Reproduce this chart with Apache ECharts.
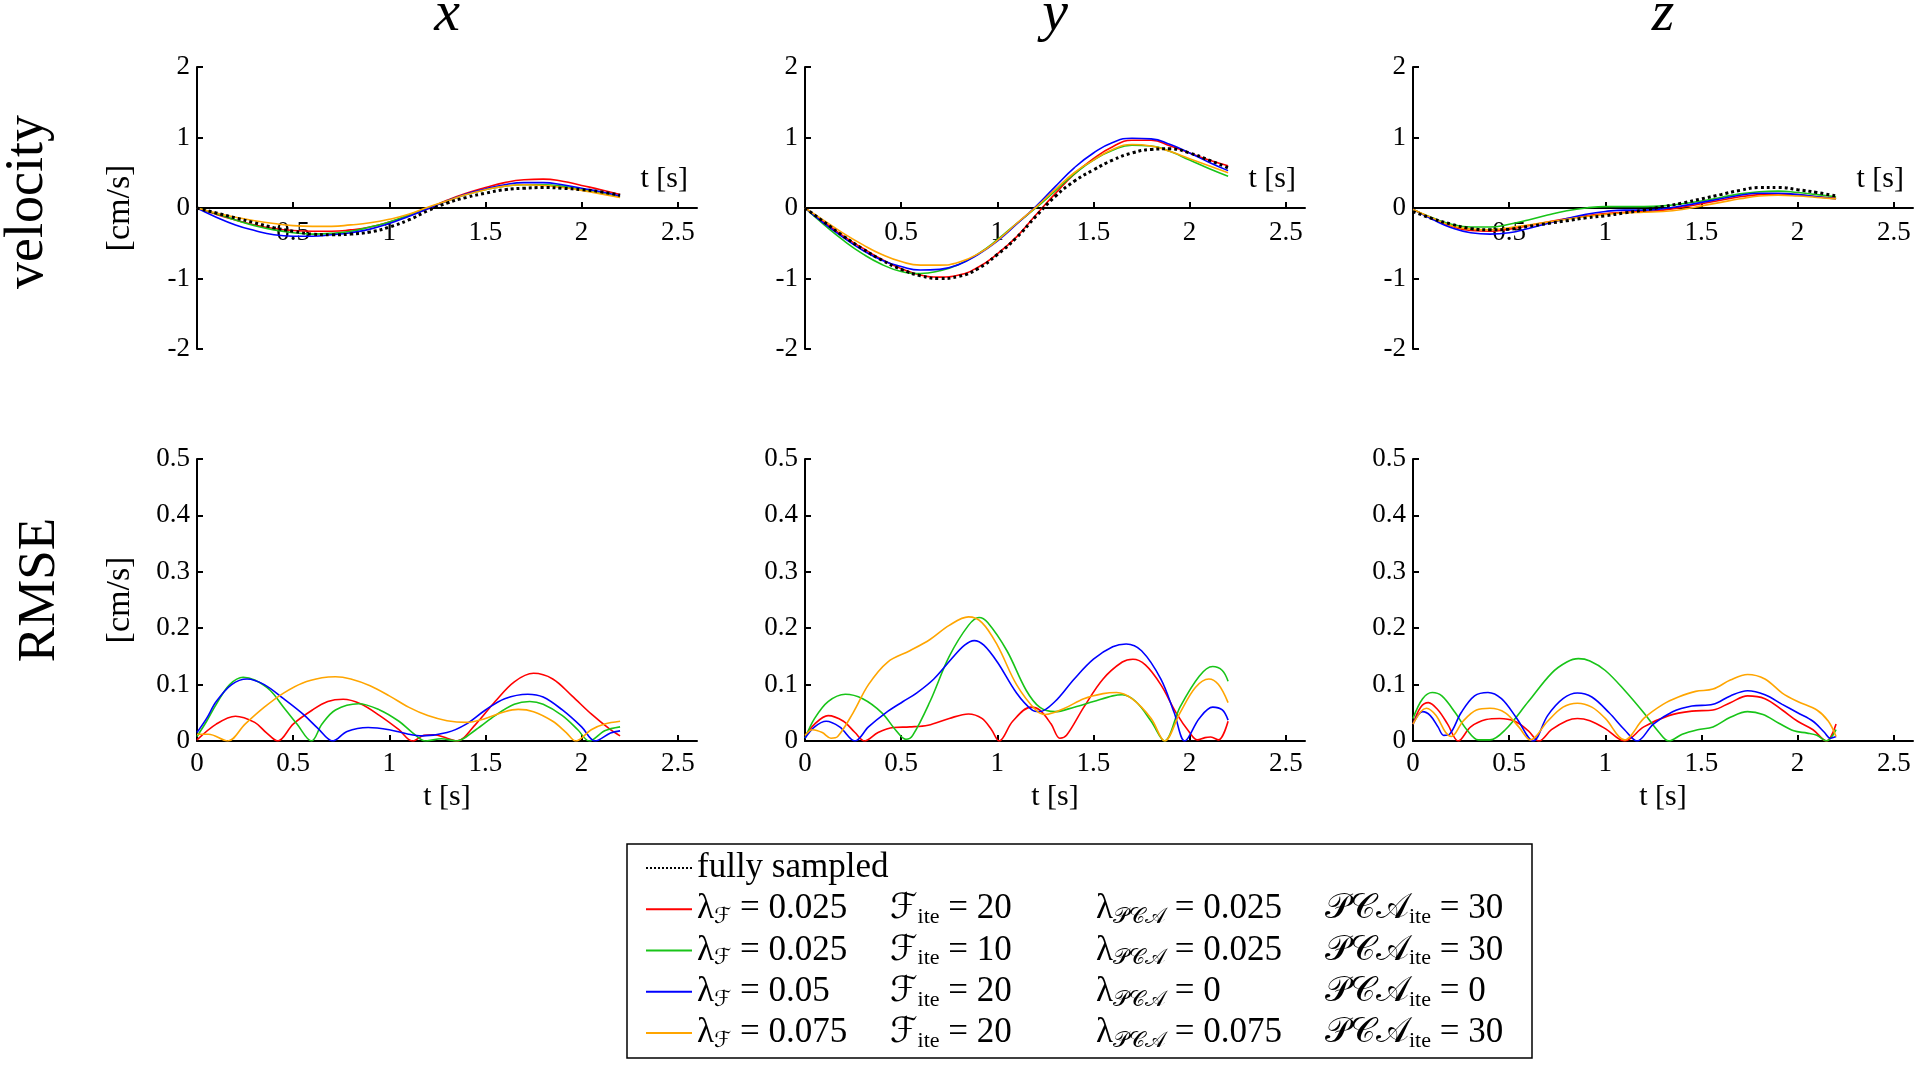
<!DOCTYPE html>
<html><head><meta charset="utf-8">
<script src="https://cdn.jsdelivr.net/npm/echarts@6/dist/echarts.min.js"></script>
<style>html,body{margin:0;padding:0;background:#fff}#c{width:1920px;height:1067px}</style>
</head><body><div id="c"></div><script>
// ---------- data ----------
const T_VEL = [0,0.1,0.2,0.3,0.4,0.5,0.6,0.7,0.8,0.9,1.0,1.1,1.2,1.3,1.4,1.5,1.6,1.7,1.8,1.9,2.0,2.1,2.2];

const VX_FULL   = [0,-0.07,-0.14,-0.21,-0.28,-0.33,-0.37,-0.38,-0.37,-0.34,-0.27,-0.17,-0.04,0.07,0.15,0.21,0.26,0.28,0.29,0.28,0.26,0.23,0.18];
const VX_RED    = [0,-0.09,-0.17,-0.24,-0.29,-0.32,-0.33,-0.33,-0.31,-0.27,-0.2,-0.11,-0.01,0.11,0.21,0.29,0.36,0.4,0.41,0.38,0.32,0.26,0.19];
const VX_GREEN  = [0,-0.08,-0.17,-0.25,-0.31,-0.35,-0.37,-0.36,-0.33,-0.27,-0.2,-0.1,0,0.1,0.19,0.26,0.31,0.33,0.33,0.31,0.26,0.21,0.16];
const VX_BLUE   = [0,-0.13,-0.24,-0.32,-0.38,-0.4,-0.4,-0.38,-0.35,-0.3,-0.22,-0.12,-0.01,0.1,0.2,0.27,0.33,0.36,0.36,0.33,0.28,0.23,0.17];
const VX_ORANGE = [0,-0.07,-0.13,-0.18,-0.22,-0.25,-0.26,-0.26,-0.24,-0.21,-0.16,-0.09,0.01,0.1,0.19,0.26,0.31,0.33,0.32,0.29,0.25,0.2,0.15];

const VY_FULL   = [0,-0.2,-0.4,-0.58,-0.74,-0.87,-0.96,-1.0,-0.97,-0.86,-0.66,-0.42,-0.12,0.16,0.38,0.54,0.68,0.78,0.83,0.84,0.78,0.68,0.57];
const VY_RED    = [0,-0.2,-0.4,-0.57,-0.73,-0.86,-0.95,-0.98,-0.95,-0.84,-0.65,-0.41,-0.1,0.2,0.48,0.7,0.87,0.96,0.96,0.88,0.78,0.68,0.6];
const VY_GREEN  = [0,-0.24,-0.46,-0.65,-0.8,-0.9,-0.93,-0.89,-0.8,-0.65,-0.45,-0.22,0,0.24,0.48,0.68,0.82,0.89,0.88,0.8,0.68,0.56,0.45];
const VY_BLUE   = [0,-0.22,-0.42,-0.6,-0.74,-0.83,-0.88,-0.87,-0.8,-0.66,-0.47,-0.23,0.02,0.3,0.57,0.78,0.93,0.99,0.98,0.9,0.78,0.65,0.53];
const VY_ORANGE = [0,-0.18,-0.36,-0.52,-0.66,-0.76,-0.81,-0.81,-0.77,-0.65,-0.46,-0.22,0.01,0.26,0.5,0.68,0.83,0.9,0.88,0.8,0.7,0.6,0.5];

const VZ_FULL   = [-0.05,-0.15,-0.23,-0.29,-0.31,-0.3,-0.26,-0.22,-0.18,-0.14,-0.11,-0.07,-0.03,0.02,0.07,0.13,0.19,0.25,0.29,0.29,0.26,0.22,0.17];
const VZ_RED    = [-0.02,-0.15,-0.26,-0.32,-0.33,-0.3,-0.25,-0.2,-0.15,-0.11,-0.08,-0.06,-0.05,-0.03,0.01,0.06,0.11,0.16,0.19,0.2,0.19,0.16,0.14];
const VZ_GREEN  = [-0.02,-0.14,-0.23,-0.27,-0.27,-0.23,-0.17,-0.1,-0.04,0,0.02,0.02,0.02,0.03,0.06,0.1,0.15,0.2,0.23,0.24,0.22,0.19,0.16];
const VZ_BLUE   = [-0.02,-0.16,-0.28,-0.35,-0.37,-0.35,-0.29,-0.22,-0.15,-0.09,-0.05,-0.03,-0.03,-0.01,0.03,0.08,0.13,0.18,0.21,0.21,0.19,0.16,0.13];
const VZ_ORANGE = [-0.02,-0.14,-0.25,-0.3,-0.31,-0.28,-0.24,-0.2,-0.16,-0.12,-0.09,-0.07,-0.06,-0.05,-0.02,0.03,0.08,0.13,0.17,0.18,0.17,0.15,0.13];

// RMSE: [t, value] pairs read at key points
const EX_RED = [[0,0.002],[0.1,0.03],[0.2,0.044],[0.3,0.033],[0.36,0.015],[0.42,0],[0.5,0.03],[0.6,0.055],[0.68,0.07],[0.76,0.074],[0.85,0.066],[0.95,0.045],[1.05,0.02],[1.12,0],[1.18,0.01],[1.23,0.011],[1.3,0.005],[1.35,0],[1.45,0.03],[1.55,0.07],[1.65,0.105],[1.75,0.12],[1.85,0.11],[1.95,0.08],[2.05,0.048],[2.15,0.02],[2.2,0.009]];
const EX_GREEN = [[0,0.008],[0.05,0.035],[0.1,0.065],[0.17,0.1],[0.24,0.113],[0.3,0.108],[0.38,0.09],[0.45,0.06],[0.52,0.03],[0.595,0],[0.65,0.03],[0.72,0.055],[0.84,0.066],[0.95,0.055],[1.05,0.035],[1.12,0.015],[1.19,0],[1.27,0.004],[1.35,0],[1.45,0.02],[1.55,0.045],[1.65,0.065],[1.73,0.07],[1.8,0.065],[1.9,0.045],[1.98,0.02],[2.04,0],[2.12,0.018],[2.2,0.025]];
const EX_BLUE = [[0,0.015],[0.05,0.04],[0.1,0.07],[0.18,0.1],[0.26,0.11],[0.35,0.1],[0.45,0.075],[0.55,0.048],[0.63,0.022],[0.706,0],[0.78,0.017],[0.89,0.024],[1.0,0.02],[1.1,0.012],[1.17,0.009],[1.3,0.015],[1.4,0.03],[1.5,0.055],[1.6,0.075],[1.72,0.083],[1.8,0.078],[1.9,0.055],[2.0,0.025],[2.07,0],[2.15,0.014],[2.2,0.018]];
const EX_ORANGE = [[0,0.012],[0.06,0.012],[0.16,0],[0.25,0.03],[0.35,0.06],[0.45,0.085],[0.55,0.103],[0.65,0.112],[0.72,0.114],[0.8,0.11],[0.9,0.098],[1.0,0.08],[1.1,0.06],[1.2,0.045],[1.3,0.036],[1.4,0.033],[1.5,0.04],[1.6,0.052],[1.67,0.056],[1.75,0.052],[1.85,0.035],[1.92,0.015],[1.97,0],[2.05,0.02],[2.12,0.03],[2.2,0.035]];

const EY_RED = [[0,0.008],[0.05,0.03],[0.12,0.045],[0.2,0.035],[0.26,0.015],[0.31,0],[0.38,0.015],[0.46,0.024],[0.545,0.025],[0.64,0.028],[0.75,0.04],[0.85,0.048],[0.92,0.04],[0.97,0.02],[1.01,0],[1.08,0.035],[1.175,0.06],[1.22,0.055],[1.28,0.03],[1.325,0.005],[1.36,0.01],[1.45,0.06],[1.55,0.11],[1.65,0.14],[1.705,0.145],[1.77,0.135],[1.85,0.1],[1.93,0.05],[2.0,0.015],[2.04,0.002],[2.08,0.006],[2.11,0.007],[2.15,0.002],[2.2,0.035]];
const EY_GREEN = [[0,0.005],[0.05,0.04],[0.12,0.07],[0.21,0.083],[0.3,0.075],[0.4,0.05],[0.47,0.02],[0.525,0.003],[0.56,0.01],[0.65,0.07],[0.75,0.15],[0.85,0.205],[0.905,0.219],[0.95,0.21],[1.05,0.16],[1.15,0.09],[1.22,0.06],[1.3,0.052],[1.4,0.06],[1.5,0.07],[1.6,0.08],[1.65,0.082],[1.72,0.07],[1.8,0.035],[1.87,0],[1.95,0.06],[2.05,0.115],[2.12,0.132],[2.17,0.125],[2.2,0.106]];
const EY_BLUE = [[0,0.005],[0.05,0.025],[0.11,0.035],[0.18,0.025],[0.26,0],[0.33,0.025],[0.42,0.05],[0.51,0.07],[0.58,0.085],[0.67,0.11],[0.76,0.145],[0.83,0.17],[0.88,0.178],[0.93,0.17],[1.0,0.14],[1.1,0.085],[1.18,0.055],[1.22,0.052],[1.3,0.07],[1.4,0.11],[1.5,0.145],[1.6,0.167],[1.67,0.172],[1.75,0.16],[1.85,0.11],[1.92,0.05],[1.975,0],[2.05,0.04],[2.12,0.06],[2.17,0.055],[2.2,0.037]];
const EY_ORANGE = [[0,0.01],[0.04,0.02],[0.09,0.015],[0.135,0.005],[0.17,0.008],[0.25,0.05],[0.33,0.1],[0.43,0.14],[0.545,0.16],[0.65,0.18],[0.75,0.205],[0.85,0.22],[0.92,0.21],[1.0,0.17],[1.1,0.1],[1.2,0.055],[1.25,0.047],[1.35,0.058],[1.45,0.075],[1.55,0.084],[1.62,0.086],[1.7,0.075],[1.8,0.04],[1.87,0],[1.95,0.05],[2.03,0.095],[2.1,0.11],[2.15,0.1],[2.2,0.068]];

const EZ_RED = [[0,0.03],[0.04,0.06],[0.08,0.068],[0.13,0.055],[0.18,0.03],[0.235,0],[0.3,0.025],[0.38,0.038],[0.45,0.04],[0.53,0.035],[0.6,0.018],[0.655,0],[0.72,0.02],[0.8,0.036],[0.855,0.04],[0.92,0.036],[1.0,0.022],[1.1,0],[1.2,0.025],[1.33,0.045],[1.45,0.053],[1.56,0.055],[1.65,0.068],[1.74,0.08],[1.83,0.075],[1.92,0.055],[2.0,0.035],[2.08,0.02],[2.15,0],[2.2,0.03]];
const EZ_GREEN = [[0,0.04],[0.05,0.075],[0.1,0.086],[0.15,0.08],[0.22,0.05],[0.28,0.02],[0.34,0.002],[0.4,0.002],[0.48,0.02],[0.6,0.07],[0.72,0.12],[0.8,0.14],[0.86,0.146],[0.92,0.142],[1.0,0.125],[1.1,0.09],[1.2,0.05],[1.28,0.015],[1.33,0],[1.4,0.012],[1.48,0.02],[1.56,0.025],[1.65,0.042],[1.74,0.052],[1.82,0.047],[1.9,0.032],[1.98,0.018],[2.05,0.014],[2.1,0.01],[2.15,0],[2.2,0.02]];
const EZ_BLUE = [[0,0.03],[0.05,0.052],[0.09,0.045],[0.13,0.025],[0.16,0.01],[0.19,0.012],[0.25,0.05],[0.32,0.08],[0.39,0.086],[0.46,0.075],[0.54,0.04],[0.625,0],[0.7,0.045],[0.78,0.075],[0.855,0.085],[0.93,0.078],[1.02,0.05],[1.1,0.02],[1.165,0],[1.25,0.03],[1.35,0.052],[1.45,0.062],[1.56,0.065],[1.65,0.08],[1.74,0.089],[1.83,0.082],[1.92,0.065],[2.0,0.05],[2.08,0.035],[2.14,0.015],[2.17,0.005],[2.2,0.008]];
const EZ_ORANGE = [[0,0.03],[0.04,0.052],[0.07,0.058],[0.12,0.045],[0.17,0.015],[0.2,0.008],[0.26,0.035],[0.33,0.055],[0.4,0.058],[0.48,0.05],[0.55,0.025],[0.61,0.002],[0.7,0.035],[0.78,0.06],[0.855,0.067],[0.93,0.06],[1.0,0.04],[1.1,0.002],[1.2,0.04],[1.3,0.065],[1.38,0.078],[1.47,0.088],[1.56,0.092],[1.65,0.108],[1.74,0.118],[1.83,0.11],[1.92,0.085],[2.0,0.07],[2.1,0.055],[2.16,0.035],[2.2,0.008]];

const X_TICKS = [0,0.5,1,1.5,2,2.5];
const X_LABELS_TOP = [0.5,1,1.5,2,2.5];
const COL_TITLES = ['x','y','z'];
const ROW_TITLES = ['velocity','RMSE'];
const UNIT = '[cm/s]';
const T_NAME = 't [s]';

const LEGEND_FULL = 'fully sampled';
const LEGEND_LF = ['0.025','0.025','0.05','0.075'];
const LEGEND_FITE = ['20','10','20','20'];
const LEGEND_LPCA = ['0.025','0.025','0','0.075'];
const LEGEND_PCAITE = ['30','30','0','30'];
const CFG_NAMES = ['cfg1','cfg2','cfg3','cfg4'];
const COLORS = ['#ff0000','#18c418','#0000ff','#ffa500'];

// ---------- layout ----------
const SERIF = '"Liberation Serif", "DejaVu Serif", "DejaVu Sans", serif';
const GL = [197, 805, 1413];
const GT = [67, 459];
const GW = 500, GH = 282;

const grids = [], xAxes = [], yAxes = [], series = [];
const velSets = [
  [VX_RED, VX_GREEN, VX_BLUE, VX_ORANGE, VX_FULL],
  [VY_RED, VY_GREEN, VY_BLUE, VY_ORANGE, VY_FULL],
  [VZ_RED, VZ_GREEN, VZ_BLUE, VZ_ORANGE, VZ_FULL]
];
const errSets = [
  [EX_RED, EX_GREEN, EX_BLUE, EX_ORANGE],
  [EY_RED, EY_GREEN, EY_BLUE, EY_ORANGE],
  [EZ_RED, EZ_GREEN, EZ_BLUE, EZ_ORANGE]
];
const axLine = {show:true, onZero:true, lineStyle:{color:'#000', width:2}};
const axTick = {show:true, inside:true, length:6, lineStyle:{color:'#000', width:2}};
const lbl = {color:'#000', fontFamily:SERIF, fontSize:27};

for (let r = 0; r < 2; r++) {
  for (let c = 0; c < 3; c++) {
    const idx = grids.length;
    grids.push({left: GL[c], top: GT[r], width: GW, height: GH});
    const xa = {
      type:'value', gridIndex: idx, min:0, max:2.6,
      axisLine: axLine,
      axisTick: Object.assign({}, axTick, {customValues: X_TICKS}),
      splitLine:{show:false},
      // top row: labels sit just below the zero line (axis crosses at y = 0, half the grid height up)
      axisLabel: Object.assign({}, lbl, {margin: r === 0 ? 11 - GH / 2 : 9, customValues: r === 0 ? X_LABELS_TOP : X_TICKS}),
      name: T_NAME
    };
    if (r === 0) {
      xa.nameLocation = 'end';
      xa.nameGap = -9;
      xa.nameTextStyle = {color:'#000', fontFamily:SERIF, fontSize:30, align:'right', verticalAlign:'bottom', padding:[0,0,14,0]};
    } else {
      xa.nameLocation = 'middle';
      xa.nameGap = 41;
      xa.nameTextStyle = {color:'#000', fontFamily:SERIF, fontSize:30};
    }
    xAxes.push(xa);
    yAxes.push({
      type:'value', gridIndex: idx,
      min: r === 0 ? -2 : 0, max: r === 0 ? 2 : 0.5, interval: r === 0 ? 1 : 0.1,
      axisLine: {show:true, onZero:false, lineStyle:{color:'#000', width:2}},
      axisTick: axTick,
      splitLine:{show:false},
      axisLabel: Object.assign({}, lbl, {margin: 7}),
      name: c === 0 ? UNIT : '',
      nameLocation:'middle', nameGap: 60,
      nameTextStyle:{color:'#000', fontFamily:SERIF, fontSize:34}
    });
    if (r === 0) {
      const set = velSets[c];
      for (let k = 0; k < 4; k++) {
        series.push({type:'line', name: CFG_NAMES[k], xAxisIndex: idx, yAxisIndex: idx,
          data: T_VEL.map((t,i)=>[t, set[k][i]]), symbol:'none', smooth:0.5, animation:false,
          lineStyle:{color: COLORS[k], width:1.6}, itemStyle:{color: COLORS[k]}, z:2});
      }
      series.push({type:'line', name: LEGEND_FULL, xAxisIndex: idx, yAxisIndex: idx,
        data: T_VEL.map((t,i)=>[t, set[4][i]]), symbol:'none', smooth:0.5, animation:false,
        lineStyle:{color:'#000', width:3, type:'dotted'}, itemStyle:{color:'#000'}, z:3});
    } else {
      const set = errSets[c];
      for (let k = 0; k < 4; k++) {
        series.push({type:'line', name: CFG_NAMES[k], xAxisIndex: idx, yAxisIndex: idx,
          data: set[k], symbol:'none', smooth:0.35, animation:false,
          lineStyle:{color: COLORS[k], width:1.6}, itemStyle:{color: COLORS[k]}, z:2});
      }
    }
  }
}

// ---------- legend rich text ----------
const FS = 35, SFS = 22;
const ctx = document.createElement('canvas').getContext('2d');
function tw(t, size) { ctx.font = size + 'px ' + SERIF; return ctx.measureText(t).width; }
const LAM = '\u03BB', CF = '\u2131', PCA = '\u{1D4AB}\u{1D49E}\u{1D49C}', ITE = 'ite';
const W1 = 193 - tw(LAM, FS) - tw(CF, SFS);
const W2 = 206 - tw(CF, FS) - tw(ITE, SFS);
const W3 = 229 - tw(LAM, FS) - tw(PCA, SFS);
const W4 = 188 - tw(PCA, FS) - tw(ITE, SFS);
const mStyle = {fontSize:FS, fontFamily:SERIF, color:'#000', lineHeight:38};
const rich = {
  m: mStyle,
  s: {fontSize:SFS, fontFamily:SERIF, color:'#000', lineHeight:22, verticalAlign:'bottom'},
  v1: Object.assign({}, mStyle, {width: W1}),
  v2: Object.assign({}, mStyle, {width: W2}),
  v3: Object.assign({}, mStyle, {width: W3}),
  v4: Object.assign({}, mStyle, {width: W4})
};

const option = {
  backgroundColor:'#fff',
  animation:false,
  grid: grids, xAxis: xAxes, yAxis: yAxes, series: series,
  legend: {
    left: 627, top: 844, orient:'vertical',
    data: [LEGEND_FULL].concat(CFG_NAMES),
    itemWidth: 46, itemHeight: 14, itemGap: 3.25,
    padding: [5, 19, 6, 18],
    borderColor:'#000', borderWidth:1.5, selectedMode:false,
    itemStyle: {opacity: 0},
    textStyle: {color:'#000', fontFamily:SERIF, fontSize:FS, lineHeight:38, rich: rich},
    formatter: function (name) {
      if (name === LEGEND_FULL) return '{m|' + LEGEND_FULL + '}';
      const i = CFG_NAMES.indexOf(name);
      return '{m|' + LAM + '}{s|' + CF + '}{v1| = ' + LEGEND_LF[i] + '}' +
             '{m|' + CF + '}{s|' + ITE + '}{v2| = ' + LEGEND_FITE[i] + '}' +
             '{m|' + LAM + '}{s|' + PCA + '}{v3| = ' + LEGEND_LPCA[i] + '}' +
             '{m|' + PCA + '}{s|' + ITE + '}{v4| = ' + LEGEND_PCAITE[i] + '}';
    }
  },
  graphic: [
    {type:'text', x:447, y:15, style:{text:COL_TITLES[0], fontFamily:SERIF, fontStyle:'italic', fontSize:58, fill:'#000', align:'center', verticalAlign:'middle'}},
    {type:'text', x:1055, y:15, style:{text:COL_TITLES[1], fontFamily:SERIF, fontStyle:'italic', fontSize:58, fill:'#000', align:'center', verticalAlign:'middle'}},
    {type:'text', x:1663, y:15, style:{text:COL_TITLES[2], fontFamily:SERIF, fontStyle:'italic', fontSize:58, fill:'#000', align:'center', verticalAlign:'middle'}},
    {type:'text', x:28, y:202, rotation:Math.PI/2, style:{text:ROW_TITLES[0], fontFamily:SERIF, fontSize:54, fill:'#000', align:'center', verticalAlign:'middle'}},
    {type:'text', x:40, y:590, rotation:Math.PI/2, style:{text:ROW_TITLES[1], fontFamily:SERIF, fontSize:53, fill:'#000', align:'center', verticalAlign:'middle'}}
  ]
};
const chart = echarts.init(document.getElementById('c'), null, {renderer:'canvas'});
chart.setOption(option);
</script></body></html>
